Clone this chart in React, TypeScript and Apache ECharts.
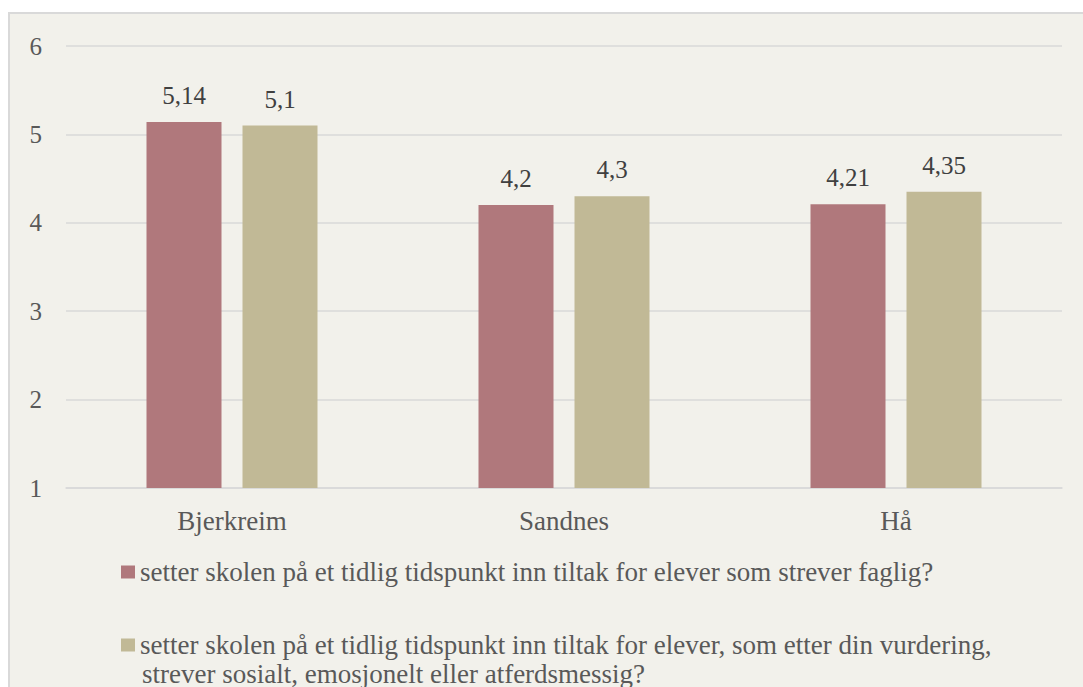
import React, { useEffect, useRef } from "react";
import * as echarts from "echarts";

const categories = ["Bjerkreim", "Sandnes", "Hå"];
const seriesNames = [
  "setter skolen på et tidlig tidspunkt inn tiltak for elever som strever faglig?",
  "setter skolen på et tidlig tidspunkt inn tiltak for elever, som etter din vurdering,\nstrever sosialt, emosjonelt eller atferdsmessig?",
];
const faglig = [5.14, 4.2, 4.21];
const sosialt = [5.1, 4.3, 4.35];
const yTicks = [1, 2, 3, 4, 5, 6];

const FONT = "Times New Roman, Liberation Serif, DejaVu Serif, serif";
const TEXT = "#595959";
const LABEL = "#404040";
const RED = "#b0787c";
const TAN = "#c1b996";
const GRID = "#d9d9d9";

export default function App() {
  const ref = useRef<HTMLDivElement>(null);
  useEffect(() => {
    if (!ref.current) return;
    const chart = echarts.init(ref.current, undefined, { renderer: "svg" });
    const fmt = (p: any) => String(p.value).replace(".", ",");
    const legendBase = {
      left: 121,
      orient: "vertical",
      icon: "rect",
      itemWidth: 14,
      itemHeight: 13,
      padding: 0,
      formatter: (name: string) => name.split("\n")[0],
      textStyle: { color: TEXT, fontFamily: FONT, fontSize: 27, lineHeight: 30 },
    };
    const labelBase = {
      show: true,
      position: "top",
      distance: 14,
      formatter: fmt,
      color: LABEL,
      fontFamily: FONT,
      fontSize: 25,
    };
    chart.setOption({
      animation: false,
      backgroundColor: "transparent",
      textStyle: { fontFamily: FONT },
      grid: { left: 66, right: 21, top: 46, bottom: 199, containLabel: false },
      xAxis: {
        type: "category",
        data: categories,
        axisLine: { lineStyle: { color: GRID, width: 1.5 } },
        axisTick: { show: false },
        axisLabel: { color: TEXT, fontFamily: FONT, fontSize: 27, margin: 19 },
      },
      yAxis: {
        type: "value",
        min: yTicks[0],
        max: yTicks[yTicks.length - 1],
        interval: 1,
        axisLine: { show: false },
        axisTick: { show: false },
        splitLine: { lineStyle: { color: GRID, width: 1.5 } },
        axisLabel: { color: TEXT, fontFamily: FONT, fontSize: 25, margin: 24 },
      },
      legend: [
        { ...legendBase, data: [seriesNames[0]], top: 557 },
        { ...legendBase, data: [seriesNames[1]], top: 630 },
      ],
      graphic: [
        {
          type: "text",
          left: 142,
          top: 660,
          style: {
            text: seriesNames[1].split("\n")[1],
            fill: TEXT,
            fontFamily: FONT,
            fontSize: 27,
          },
        },
      ],
      series: [
        {
          name: seriesNames[0],
          type: "bar",
          data: faglig,
          barWidth: 75,
          barGap: "28%",
          itemStyle: { color: RED },
          label: labelBase,
        },
        {
          name: seriesNames[1],
          type: "bar",
          data: sosialt,
          barWidth: 75,
          barGap: "28%",
          itemStyle: { color: TAN },
          label: labelBase,
        },
      ],
    });
    return () => chart.dispose();
  }, []);

  return (
    <div style={{ position: "fixed", inset: 0, overflow: "hidden", background: "#ffffff" }}>
      <div
        style={{
          position: "absolute",
          left: 8,
          top: 12,
          width: 1100,
          height: 700,
          background: "#f2f1eb",
          borderTop: "2px solid #d9d9d9",
          borderLeft: "2px solid #d9d9d9",
        }}
      />
      <div ref={ref} style={{ position: "absolute", left: 0, top: 0, width: 1083, height: 687 }} />
    </div>
  );
}
